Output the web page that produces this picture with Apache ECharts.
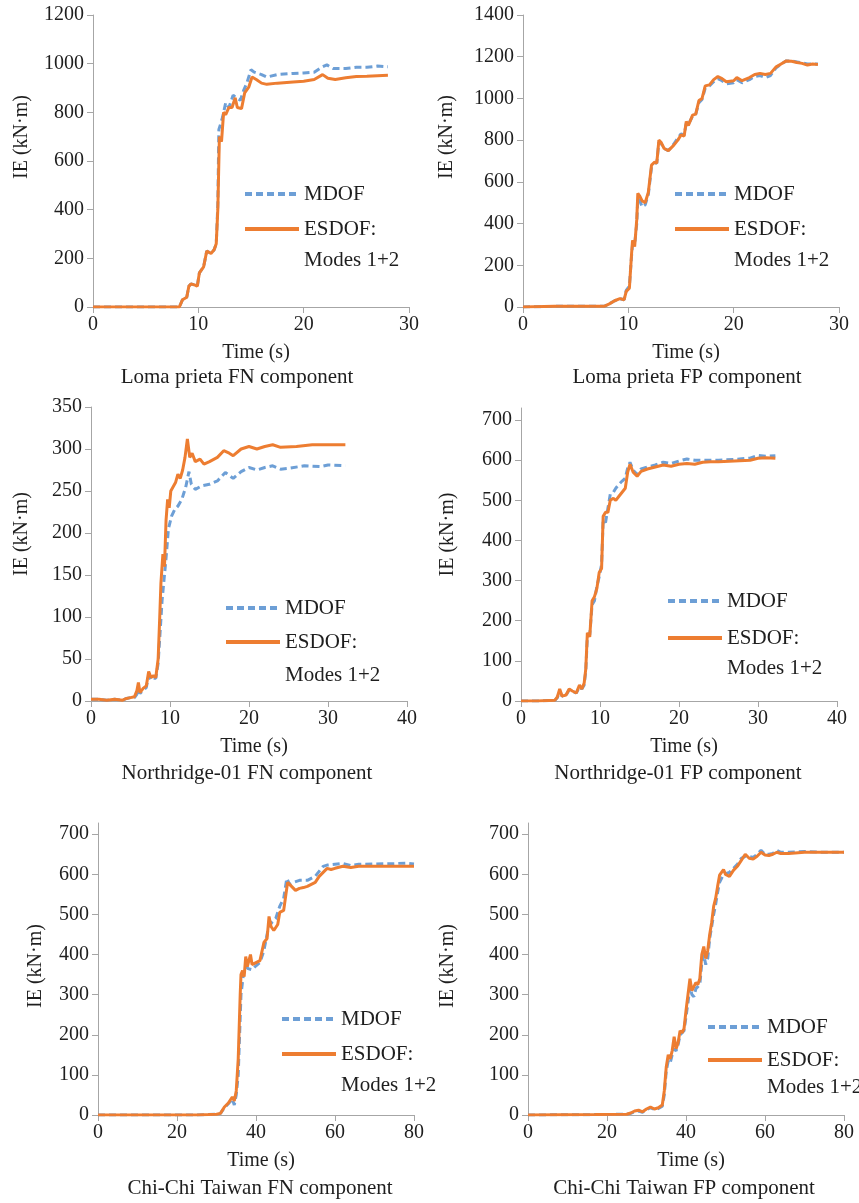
<!DOCTYPE html>
<html><head><meta charset="utf-8">
<script src="https://cdn.jsdelivr.net/npm/echarts@6/dist/echarts.min.js"></script>
<style>html,body{margin:0;padding:0;background:#fff}#c{width:859px;height:1203px}</style>
</head><body><div id="c"></div>
<script>
// ---------------- DATA ----------------
const captions = ['Loma prieta FN component','Loma prieta FP component','Northridge-01 FN component','Northridge-01 FP component','Chi-Chi Taiwan FN component','Chi-Chi Taiwan FP component'];
const seriesNames = ['MDOF','ESDOF:'];
const legendSecondLine = 'Modes 1+2';
const xAxisTitle = 'Time (s)';
const yAxisTitle = 'IE (kN·m)';

// Loma prieta FN
const lpFN_mdof_t = [0,8.2,8.3,8.5,8.9,9.1,9.3,9.7,9.9,10.1,10.5,10.8,11.2,11.5,11.7,11.85,11.95,12.1,12.3,12.6,12.9,13.3,13.6,14.0,14.3,14.6,15.0,15.3,16.0,16.5,17.5,19,20,21,21.7,22.2,22.8,24,25,26,27,28];
const lpFN_mdof_v = [0,0,5,30,40,85,95,90,85,140,165,230,220,235,260,420,730,750,780,840,820,870,860,850,890,920,975,965,955,945,955,960,962,965,985,995,980,980,985,985,990,987];
const lpFN_esdof_t = [0,8.2,8.3,8.5,8.9,9.1,9.3,9.7,9.9,10.1,10.5,10.8,11.2,11.5,11.7,11.85,12.0,12.2,12.4,12.6,12.9,13.2,13.5,13.7,14.1,14.4,14.8,15.1,15.5,16.0,16.5,17.5,19,20,21,21.8,22.3,23,24,25,26,27,28];
const lpFN_esdof_v = [0,0,5,30,40,85,95,90,85,140,165,230,220,235,260,400,700,680,800,790,820,820,860,820,815,880,905,945,935,920,915,920,925,928,935,955,940,935,942,947,948,950,952];

// Loma prieta FP
const lpFP_t = [0,3,7.7,8.2,8.7,9.2,9.6,9.8,10.1,10.3,10.4,10.6,10.8,10.9,11.1,11.3,11.6,11.9,12.2,12.5,12.7,12.9,13.1,13.4,13.8,14.3,14.7,15.0,15.3,15.5,15.7,16.1,16.4,16.7,17.0,17.3,17.7,18.1,18.5,18.9,19.3,20,20.3,20.8,21.5,22,22.5,23,23.5,24,24.5,25,25.5,26,26.5,27,27.5,28];
const lpFP_mdof_v = [0,3,3,15,30,40,35,80,100,240,300,300,400,520,510,480,490,540,670,690,690,790,785,760,750,780,810,830,825,880,875,915,925,980,995,1050,1060,1080,1095,1085,1070,1075,1090,1075,1090,1105,1110,1100,1110,1145,1165,1180,1180,1175,1170,1165,1165,1165];
const lpFP_esdof_v = [0,3,3,15,30,40,35,75,90,250,320,290,420,545,530,510,500,550,680,695,690,800,790,760,750,775,800,825,820,890,870,920,925,990,1000,1060,1065,1090,1105,1095,1080,1085,1100,1085,1100,1115,1120,1115,1120,1150,1165,1180,1178,1172,1168,1160,1165,1163];

// Northridge-01 FN
const nrFN_mdof_t = [0,1,2,3,4,4.5,5,5.5,5.8,6.0,6.2,6.6,7.0,7.3,7.6,7.9,8.2,8.5,9.0,9.5,9.8,10.2,10.6,11.0,11.5,12.0,12.4,12.7,13.2,14,15,16,17,18,19,20,21,22,23,24,25,27,29,30,32.2];
const nrFN_mdof_v = [2,2,1,2,1,3,4,4,8,15,9,13,16,30,25,27,27,45,120,170,205,220,228,232,240,255,273,258,252,256,258,262,272,265,273,278,275,278,280,276,277,280,279,281,280];
const nrFN_esdof_t = [0,1,2,3,4,4.5,5,5.5,5.8,6.0,6.2,6.6,7.0,7.3,7.6,7.9,8.2,8.5,8.7,8.85,9.1,9.3,9.5,9.7,9.9,10.1,10.4,10.7,11.0,11.3,11.6,11.9,12.2,12.5,12.8,13.2,13.8,14.3,15,16,16.8,17.5,18,19,20,21,22,23,24,26,28,30,32.2];
const nrFN_esdof_v = [2,2,1,2,1,3,4,5,12,22,10,15,18,35,28,30,28,50,100,140,175,160,215,240,230,250,255,260,270,265,275,290,312,290,295,285,288,282,285,290,298,295,292,300,303,300,303,305,302,303,305,305,305];

// Northridge-01 FP
const nrFP_t = [0,2,4.3,4.6,4.9,5.2,5.7,6.1,6.5,7.0,7.4,7.7,8.0,8.2,8.4,8.7,9.0,9.3,9.6,9.9,10.2,10.4,10.7,11.0,11.3,11.7,12.0,12.4,12.8,13.2,13.5,13.8,14.2,14.7,15.2,16,17,18,19,20,21,22,23,24,25,27,29,30,31,32.2];
const nrFP_mdof_v = [0,0,2,8,25,12,14,28,24,20,35,30,40,75,160,165,240,250,285,310,340,450,445,480,515,520,530,540,548,555,580,595,575,565,578,583,588,595,592,598,603,600,600,600,600,602,605,612,610,611];
const nrFP_esdof_v = [0,0,2,10,30,12,15,30,25,20,40,30,45,80,170,160,250,260,280,320,330,460,470,470,500,505,500,510,520,530,570,590,570,560,572,578,583,588,585,590,592,590,595,596,596,598,600,605,606,605];

// Chi-Chi Taiwan FN
const ccFN_mdof_t = [0,25,28,30,31,32,33,34,34.5,35,35.5,36.2,36.8,37.5,38,39,40,41,42,43.2,44,45,46,47,47.8,48.5,49.5,51,53,55,57,58,60,62,64,66,70,75,78,80];
const ccFN_mdof_v = [0,0,1,2,4,18,28,40,25,50,100,300,350,370,365,362,372,380,410,470,480,490,520,540,590,575,580,585,585,595,620,623,625,627,622,625,626,627,628,626];
const ccFN_esdof_t = [0,25,28,30,31,32,33,34,34.5,35,35.5,36,36.2,36.6,37,37.4,37.8,38.6,39,40,41,42,42.8,43.3,43.8,44.5,45.5,46,47,48,49,50,51,52,53,54,55,56,57,58,59,60,62,64,66,70,75,80];
const ccFN_esdof_v = [0,0,1,2,4,20,30,45,35,60,140,300,350,360,345,395,370,400,375,380,385,430,440,495,470,460,475,505,510,580,570,560,565,567,570,575,580,595,605,615,612,615,620,617,620,620,620,620];

// Chi-Chi Taiwan FP
const ccFP_t = [0,17,25,26,27,28,29,30,31,32,33,34,34.5,35,35.5,36,36.5,37,37.5,38,38.5,39,39.5,40,40.5,41,41.5,42,42.5,43,43.5,44,44.5,45,45.5,46,46.5,47,47.5,48,48.5,49,49.5,50,51,52,53,54,55,56,57,58,59,60,61,62,63,64,66,70,75,80];
const ccFP_mdof_v = [0,1,2,4,8,10,7,13,18,14,16,22,50,110,135,130,150,165,160,175,200,200,210,245,280,320,300,295,315,320,325,380,400,375,390,440,470,500,525,555,580,590,600,600,605,615,625,640,645,645,642,650,660,650,650,652,660,655,655,657,655,655];
const ccFP_esdof_v = [0,1,2,5,10,12,8,15,20,15,18,25,60,120,150,140,160,195,165,180,210,205,215,260,300,340,310,310,330,325,340,400,420,390,410,450,480,520,540,570,598,605,612,600,595,610,620,635,650,640,638,645,655,648,647,650,655,652,652,655,655,655];

// axis tick values
const xTicks = [[0,10,20,30],[0,10,20,30],[0,10,20,30,40],[0,10,20,30,40],[0,20,40,60,80],[0,20,40,60,80]];
const yTicks = [
  [0,200,400,600,800,1000,1200],
  [0,200,400,600,800,1000,1200,1400],
  [0,50,100,150,200,250,300,350],
  [0,100,200,300,400,500,600,700],
  [0,100,200,300,400,500,600,700],
  [0,100,200,300,400,500,600,700]
];

// ---------------- BUILD ----------------
function zip(t, v){ return t.map((x,i)=>[x, v[i]]); }
const curves = [
  [zip(lpFN_mdof_t, lpFN_mdof_v), zip(lpFN_esdof_t, lpFN_esdof_v)],
  [zip(lpFP_t, lpFP_mdof_v), zip(lpFP_t, lpFP_esdof_v)],
  [zip(nrFN_mdof_t, nrFN_mdof_v), zip(nrFN_esdof_t, nrFN_esdof_v)],
  [zip(nrFP_t, nrFP_mdof_v), zip(nrFP_t, nrFP_esdof_v)],
  [zip(ccFN_mdof_t, ccFN_mdof_v), zip(ccFN_esdof_t, ccFN_esdof_v)],
  [zip(ccFP_t, ccFP_mdof_v), zip(ccFP_t, ccFP_esdof_v)]
];

// layout (positions/styles)
const FONT = '"Liberation Serif", "Times New Roman", serif';
const TXT = '#1e1e1e';
const AX = '#a6a6a6';
const BLUE = '#6D9FD6', ORANGE = '#ED7D31';
const layout = [
  {left:93,  top:15,  w:316, h:292, yMax:1200, yGap:61, yShift:24, cap:[237,377], leg:[243,194,229,260]},
  {left:523, top:15,  w:316, h:292, yMax:1400, yGap:66, yShift:24, cap:[687,377], leg:[673,194,229,260]},
  {left:91,  top:407, w:316, h:294, yMax:350,  yGap:59, yShift:20, cap:[247,773], leg:[224,608,642,675]},
  {left:521, top:408, w:316, h:293, yMax:730,  yGap:63, yShift:20, cap:[678,773], leg:[666,601,638,668]},
  {left:98,  top:823, w:316, h:292, yMax:728,  yGap:52, yShift:3,  cap:[260,1188], leg:[280,1019,1054,1085]},
  {left:528, top:823, w:316, h:292, yMax:728,  yGap:70, yShift:3,  cap:[684,1188], leg:[706,1027,1060,1087]}
];

const grid=[], xAxis=[], yAxis=[], series=[], legend=[], title=[], graphic=[];
const plain = v => String(v);
layout.forEach((L,i)=>{
  grid.push({left:L.left, top:L.top, width:L.w, height:L.h, containLabel:false});
  const xt = xTicks[i], yt = yTicks[i];
  xAxis.push({
    type:'value', gridIndex:i, min:xt[0], max:xt[xt.length-1], interval:xt[1]-xt[0],
    name:xAxisTitle, nameLocation:'middle', nameGap:36,
    nameTextStyle:{fontFamily:FONT, fontSize:20, color:TXT, lineHeight:20, padding:[0,0,0,10]},
    axisLine:{show:true, lineStyle:{color:AX, width:1}},
    axisTick:{show:true, length:6, lineStyle:{color:AX}},
    axisLabel:{fontFamily:FONT, fontSize:20, color:TXT, margin:8, formatter:plain},
    splitLine:{show:false}
  });
  yAxis.push({
    type:'value', gridIndex:i, min:0, max:L.yMax,
    name:yAxisTitle, nameLocation:'middle', nameGap:L.yGap,
    nameTextStyle:{fontFamily:FONT, fontSize:20, color:TXT, lineHeight:20, padding:[0,0,0,2*L.yShift]},
    axisLine:{show:true, lineStyle:{color:AX, width:1}},
    axisTick:{show:true, length:6, lineStyle:{color:AX}, customValues:yt},
    axisLabel:{fontFamily:FONT, fontSize:20, color:TXT, margin:9, customValues:yt, formatter:plain},
    splitLine:{show:false}
  });
  series.push({
    type:'line', name:seriesNames[0], xAxisIndex:i, yAxisIndex:i, data:curves[i][0],
    symbol:'none', showSymbol:false, animation:false,
    lineStyle:{color:BLUE, width:3, type:[7,4]}, itemStyle:{color:BLUE}, z:2
  });
  series.push({
    type:'line', name:seriesNames[1], xAxisIndex:i, yAxisIndex:i, data:curves[i][1],
    symbol:'none', showSymbol:false, animation:false,
    lineStyle:{color:ORANGE, width:3}, itemStyle:{color:ORANGE}, z:3
  });
  const lg = L.leg;
  [0,1].forEach(k=>{
    legend.push({
      data:[seriesNames[k]], left:lg[0], top:(k===0?lg[1]:lg[2])-12, orient:'vertical',
      padding:0, itemWidth:54, itemHeight:24, selectedMode:false,
      textStyle:{fontFamily:FONT, fontSize:21, color:TXT, lineHeight:24},
      lineStyle:{width:4},
      itemStyle:{opacity:0, borderWidth:0}
    });
  });
  graphic.push({
    type:'text', x:lg[0]+61, y:lg[3],
    style:{text:legendSecondLine, font:'21px "Liberation Serif", serif', fill:TXT, verticalAlign:'middle', align:'left'}
  });
  title.push({
    text:captions[i], left:L.cap[0], top:L.cap[1]-11, textAlign:'center', padding:0,
    textStyle:{fontFamily:FONT, fontSize:21, fontWeight:'normal', color:TXT, lineHeight:22}
  });
});

const chart = echarts.init(document.getElementById('c'), null, {renderer:'canvas'});
chart.setOption({animation:false, backgroundColor:'#fff', grid, xAxis, yAxis, series, legend, title, graphic});
</script>
</body></html>
